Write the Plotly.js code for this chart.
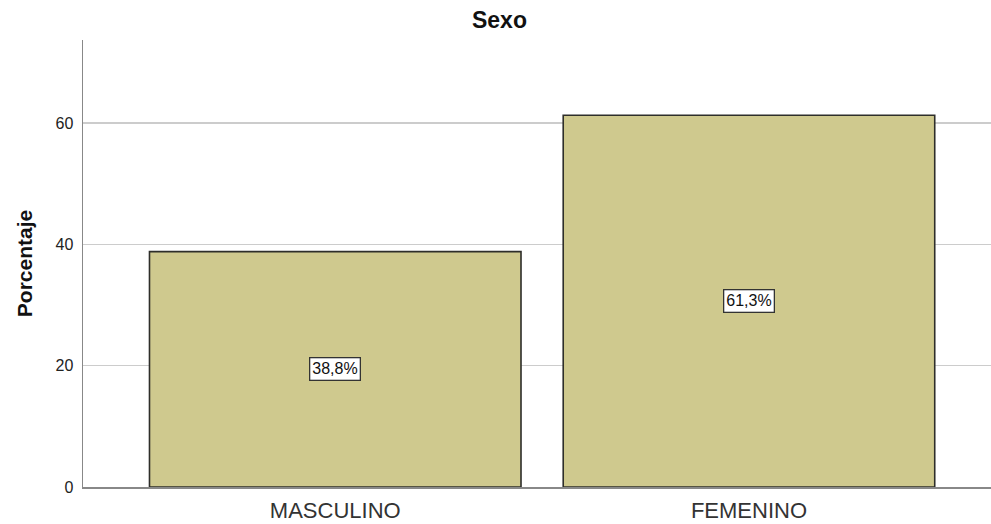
<!DOCTYPE html>
<html>
<head>
<meta charset="utf-8">
<script src="https://cdn.plot.ly/plotly-3.0.1.min.js"></script>
<style>html,body{margin:0;padding:0;background:#fff;}#chart{width:991px;height:524px;}</style>
</head>
<body>
<div id="chart"></div>
<script>
var categories = ["MASCULINO", "FEMENINO"];
var percentages = [38.8, 61.3];
var yTicks = [0, 20, 40, 60];

var labels = percentages.map(function(v){ return v.toFixed(1).replace('.', ',') + '%'; });
var FONT = 'Liberation Sans, Arial, sans-serif';

var trace = {
  type: 'bar',
  x: categories,
  y: percentages,
  width: 0.898,
  marker: {color: '#cfc98e', line: {color: '#2e2e2a', width: 1.6}},
  hoverinfo: 'none'
};

var annotations = categories.map(function(c, i){
  return {
    x: c, y: percentages[i] / 2, xref: 'x', yref: 'y',
    text: labels[i], showarrow: false,
    font: {family: FONT, size: 16, color: '#111'},
    bgcolor: '#ffffff', bordercolor: '#333333', borderwidth: 1.3, borderpad: 2
  };
});

var layout = {
  width: 991, height: 524,
  margin: {l: 83, r: 0, t: 40, b: 37},
  paper_bgcolor: '#ffffff', plot_bgcolor: '#ffffff',
  showlegend: false,
  title: {text: '<b>Sexo</b>', x: 0.504, xanchor: 'center', y: 0.962, yanchor: 'middle',
          font: {family: FONT, size: 23, color: '#111'}},
  xaxis: {
    range: [-0.6097, 1.585],
    showgrid: false, zeroline: false,
    showline: true, linecolor: '#888888', linewidth: 1.5,
    ticks: 'outside', ticklen: 3, tickcolor: 'rgba(0,0,0,0)',
    tickfont: {family: FONT, size: 22, color: '#333'},
    fixedrange: true
  },
  yaxis: {
    range: [0, 73.7],
    tickvals: yTicks, ticktext: yTicks.map(String),
    showgrid: true, gridcolor: '#cccccc', gridwidth: 1.3,
    zeroline: false, showline: true, linecolor: '#888888', linewidth: 1.5,
    ticks: 'outside', ticklen: 5, tickcolor: 'rgba(0,0,0,0)',
    tickfont: {family: FONT, size: 16, color: '#222'},
    title: {text: '<b>Porcentaje</b>', standoff: 17,
            font: {family: FONT, size: 21, color: '#111'}},
    fixedrange: true
  },
  annotations: annotations,
  bargap: 0
};

Plotly.newPlot('chart', [trace], layout, {displayModeBar: false, staticPlot: true});
</script>
</body>
</html>
